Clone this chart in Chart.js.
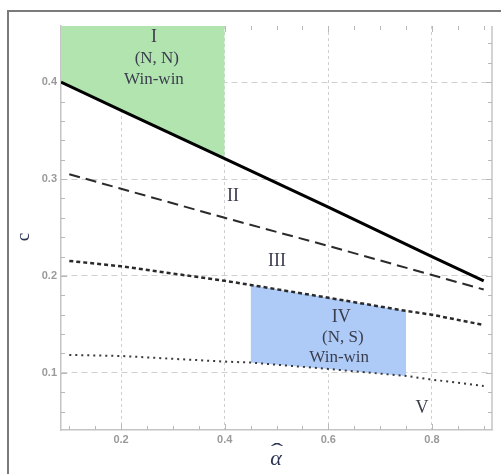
<!DOCTYPE html>
<html>
<head>
<meta charset="utf-8">
<script src="https://cdn.jsdelivr.net/npm/chart.js@4/dist/chart.umd.min.js"></script>
<style>
  html, body { margin: 0; padding: 0; background: #fff; }
  #wrap { position: relative; width: 501px; height: 474px; }
</style>
</head>
<body>
<div id="wrap"><canvas id="chart"></canvas></div>
<script>
// 曲線データ
const alphaSolid = [0.084, 0.2, 0.4, 0.6, 0.8, 0.9];
const cSolid = [0.400, 0.371, 0.321, 0.271, 0.220, 0.195];

const alphaDash = [0.1, 0.2, 0.4, 0.6, 0.8, 0.9];
const cDash = [0.305, 0.290, 0.260, 0.231, 0.201, 0.186];

const alphaShort = [0.1, 0.2, 0.4, 0.45, 0.6, 0.75, 0.8, 0.9];
const cShort = [0.2155, 0.210, 0.195, 0.1907, 0.1775, 0.1639, 0.160, 0.1494];

const alphaDot = [0.1, 0.2, 0.4, 0.45, 0.6, 0.75, 0.8, 0.9];
const cDot = [0.1185, 0.1174, 0.1116, 0.1106, 0.104, 0.0968, 0.093, 0.0865];

// 領域 I（緑）と IV（青）
const alphaGreen = [0.084, 0.2, 0.4];
const cGreen = [0.400, 0.371, 0.321];
const alphaBlue = [0.45, 0.6, 0.75];
const cBlueTop = [0.1907, 0.1775, 0.1639];
const cBlueBottom = [0.1106, 0.104, 0.0968];

// 目盛り
const xTicks = [0.1, 0.15, 0.2, 0.25, 0.3, 0.35, 0.4, 0.45, 0.5, 0.55, 0.6, 0.65, 0.7, 0.75, 0.8, 0.85, 0.9];
const xTickLabels = ["0.2", "0.4", "0.6", "0.8"];
const yTicks = [0.06, 0.08, 0.1, 0.12, 0.14, 0.16, 0.18, 0.2, 0.22, 0.24, 0.26, 0.28, 0.3, 0.32, 0.34, 0.36, 0.38, 0.4, 0.42, 0.44];
const yTickLabels = ["0.1", "0.2", "0.3", "0.4"];

// 領域ラベル（データ座標）
const regionLabels = [
  { text: "I", x: 0.2635, y: 0.4466 },
  { text: "(N, N)", x: 0.269, y: 0.424 },
  { text: "Win-win", x: 0.2635, y: 0.403 },
  { text: "II", x: 0.416, y: 0.2826 },
  { text: "III", x: 0.501, y: 0.2155 },
  { text: "IV", x: 0.625, y: 0.1577 },
  { text: "(N, S)", x: 0.628, y: 0.136 },
  { text: "Win-win", x: 0.621, y: 0.1154 },
  { text: "V", x: 0.781, y: 0.0638 },
];

const pts = (xs, ys) => xs.map((x, i) => ({ x: x, y: ys[i] }));
const fmt = (v) => (Math.round(v * 10) / 10).toFixed(1);
const onTenth = (v) => Math.abs(v * 10 - Math.round(v * 10)) < 1e-6;
const isMajorX = (v) => onTenth(v) && xTickLabels.includes(fmt(v));
const isMajorY = (v) => onTenth(v) && yTickLabels.includes(fmt(v));

const decorPlugin = {
  id: "decor",
  beforeDraw(chart) {
    const ctx = chart.ctx;
    ctx.save();
    ctx.strokeStyle = "#7a7a7a";
    ctx.lineWidth = 2;
    ctx.beginPath();
    ctx.moveTo(8, 474);
    ctx.lineTo(8, 11);
    ctx.lineTo(501, 11);
    ctx.stroke();
    ctx.restore();
  },
  beforeDatasetsDraw(chart) {
    const ctx = chart.ctx;
    const a = chart.chartArea;
    const xs = chart.scales.x, ys = chart.scales.y;
    ctx.save();
    ctx.strokeStyle = "#c4c4c4";
    ctx.lineWidth = 1.5;
    ctx.beginPath();
    ctx.moveTo(a.right, a.top);
    ctx.lineTo(a.right, a.bottom);
    ctx.stroke();
    ctx.lineWidth = 1;
    ctx.strokeStyle = "#b8b8b8";
    ctx.beginPath();
    xTicks.forEach((v) => {
      const px = Math.round(xs.getPixelForValue(v)) + 0.5;
      const len = isMajorX(v) ? 6 : 4;
      ctx.moveTo(px, a.bottom);
      ctx.lineTo(px, a.bottom - len);
      ctx.moveTo(px, a.top);
      ctx.lineTo(px, a.top + len);
    });
    yTicks.forEach((v) => {
      const py = Math.round(ys.getPixelForValue(v)) + 0.5;
      const len = isMajorY(v) ? 6 : 4;
      ctx.moveTo(a.left, py);
      ctx.lineTo(a.left + len, py);
      ctx.moveTo(a.right, py);
      ctx.lineTo(a.right - len, py);
    });
    ctx.stroke();
    ctx.restore();
  },
  afterDraw(chart) {
    const ctx = chart.ctx;
    const xs = chart.scales.x, ys = chart.scales.y;
    ctx.save();
    ctx.fillStyle = "#3a3d4c";
    ctx.textAlign = "center";
    ctx.textBaseline = "middle";
    regionLabels.forEach((l) => {
      const roman = /^[IV]+$/.test(l.text);
      ctx.font = roman ? '18px "Liberation Serif"' : '17px "Liberation Serif"';
      ctx.fillText(l.text, xs.getPixelForValue(l.x), ys.getPixelForValue(l.y));
    });
    // 軸タイトル
    ctx.fillStyle = "#2b3552";
    ctx.font = 'italic 22px "Liberation Serif"';
    ctx.fillText("\u03b1", 276, 459);
    ctx.save();
    ctx.translate(277, 452);
    ctx.scale(1.7, 1);
    ctx.font = '22px "Liberation Serif"';
    ctx.fillText("\u02c6", 0, 0);
    ctx.restore();
    ctx.translate(24, 237);
    ctx.rotate(-Math.PI / 2);
    ctx.font = '19px "Liberation Serif"';
    ctx.fillText("c", 0, 0);
    ctx.restore();
  },
};

const lineSet = (xs, ys, color, width, dash, order) => ({
  data: pts(xs, ys),
  borderColor: color,
  borderWidth: width,
  borderDash: dash,
  pointRadius: 0,
  fill: false,
  tension: 0,
  order: order,
});

new Chart(document.getElementById("chart"), {
  type: "line",
  data: {
    datasets: [
      {
        data: pts(alphaGreen, cGreen),
        borderWidth: 0,
        pointRadius: 0,
        backgroundColor: "#b2e4b0",
        fill: "end",
        order: 10,
      },
      {
        data: pts(alphaBlue, cBlueTop),
        borderWidth: 0,
        pointRadius: 0,
        backgroundColor: "#aecbf8",
        fill: "+1",
        order: 10,
      },
      {
        data: pts(alphaBlue, cBlueBottom),
        borderWidth: 0,
        pointRadius: 0,
        fill: false,
        order: 10,
      },
      lineSet(alphaSolid, cSolid, "#000", 3, [], 1),
      lineSet(alphaDash, cDash, "#2a2a2a", 2, [11, 6], 1),
      lineSet(alphaShort, cShort, "#2a2a2a", 2.5, [4, 3], 1),
      lineSet(alphaDot, cDot, "#3a3a3a", 2, [2, 4], 1),
    ],
  },
  options: {
    responsive: true,
    maintainAspectRatio: false,
    animation: false,
    layout: { padding: { top: 26, right: 9, bottom: 0, left: 0 } },
    plugins: { legend: { display: false }, tooltip: { enabled: false } },
    scales: {
      x: {
        type: "linear",
        min: 0.084,
        max: 0.916,
        afterBuildTicks: (s) => { s.ticks = xTicks.map((v) => ({ value: v })); },
        afterFit: (s) => { s.height = 44; },
        ticks: {
          autoSkip: false,
          maxRotation: 0,
          padding: 3,
          color: "#9a9a9a",
          font: { family: "Liberation Sans", size: 11, weight: "bold" },
          callback: (v) => (isMajorX(v) ? fmt(v) : ""),
        },
        grid: {
          drawTicks: false,
          lineWidth: 1,
          color: (c) => (c.tick && isMajorX(c.tick.value) ? "#cfcfcf" : "rgba(0,0,0,0)"),
        },
        border: { display: true, color: "#c4c4c4", width: 1.5, dash: [3, 3] },
      },
      y: {
        type: "linear",
        min: 0.041,
        max: 0.458,
        afterBuildTicks: (s) => { s.ticks = yTicks.map((v) => ({ value: v })); },
        afterFit: (s) => { s.width = 61; },
        ticks: {
          autoSkip: false,
          padding: 4,
          color: "#9a9a9a",
          font: { family: "Liberation Sans", size: 11, weight: "bold" },
          callback: (v) => (isMajorY(v) ? fmt(v) : ""),
        },
        grid: {
          drawTicks: false,
          lineWidth: 1,
          color: (c) => (c.tick && isMajorY(c.tick.value) ? "#cfcfcf" : "rgba(0,0,0,0)"),
        },
        border: { display: true, color: "#c4c4c4", width: 1.5, dash: [6, 4] },
      },
    },
  },
  plugins: [decorPlugin],
});
</script>
</body>
</html>
